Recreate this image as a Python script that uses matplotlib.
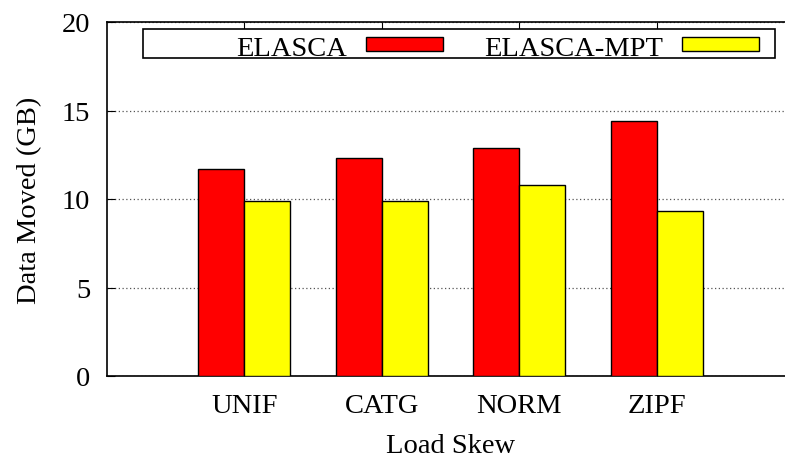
import numpy as np
import matplotlib
matplotlib.use('Agg')
import matplotlib.pyplot as plt
from matplotlib.patches import Rectangle

plt.rcParams['font.family'] = ['Liberation Serif', 'DejaVu Serif']

# === data ===
categories = ['UNIF', 'CATG', 'NORM', 'ZIPF']
elasca = [11.7, 12.3, 12.9, 14.4]
elasca_mpt = [9.9, 9.9, 10.8, 9.3]
series_names = ['ELASCA', 'ELASCA-MPT']
colors = ['#ff0000', '#ffff00']
yticks = [0, 5, 10, 15, 20]

FS = 20.5
W, H = 785, 464
fig = plt.figure(figsize=(W / 100, H / 100), dpi=100)
# axes run past the right edge of the picture (like the cropped gnuplot output)
ax = fig.add_axes([107 / W, (H - 377) / H, (794 - 107) / W, (377 - 23) / H])

x = np.arange(1, len(categories) + 1)
bw = 0.335
ax.bar(x - bw / 2, elasca, bw, color=colors[0], edgecolor='black', linewidth=1, zorder=3)
ax.bar(x + bw / 2, elasca_mpt, bw, color=colors[1], edgecolor='black', linewidth=1, zorder=3)

ax.set_xlim(0, 5)
ax.set_ylim(0, 20)
ax.set_yticks(yticks)
ax.set_xticks(x)
ax.set_xticklabels(categories)
ax.tick_params(axis='x', direction='in', top=True, length=7, pad=12, labelsize=FS)
ax.tick_params(axis='y', direction='in', length=6, pad=12, labelsize=FS)
ax.yaxis.grid(True, linestyle=(0, (1, 2)), color='#555555', linewidth=0.9)
ax.set_axisbelow(True)
ax.spines['right'].set_visible(False)
for s in ax.spines.values():
    s.set_linewidth(1.2)

ax.set_ylabel('Data Moved (GB)', fontsize=FS, labelpad=14)
ax.set_xlabel('Load Skew', fontsize=FS, labelpad=11)

# gnuplot style key: text right-justified, then the sample box
def px(xp, yp):
    return xp / W, 1 - yp / H

x0, y0 = px(143, 59)
x1, y1 = px(775, 30)
fig.patches.append(Rectangle((x0, y0), x1 - x0, y1 - y0, transform=fig.transFigure,
                             facecolor='white', edgecolor='black', linewidth=1.2, zorder=5))
text_right = [347, 663]
sample_left = [366, 682]
sample_w = 77
for name, col, tr, sl in zip(series_names, colors, text_right, sample_left):
    tx, ty = px(tr, 46)
    fig.text(tx, ty, name, ha='right', va='center_baseline', fontsize=FS, zorder=6)
    sx, sy = px(sl, 52)
    fig.patches.append(Rectangle((sx, sy), sample_w / W, 14 / H, transform=fig.transFigure,
                                 facecolor=col, edgecolor='black', linewidth=1, zorder=6))

fig.savefig('out.png', dpi=100)
